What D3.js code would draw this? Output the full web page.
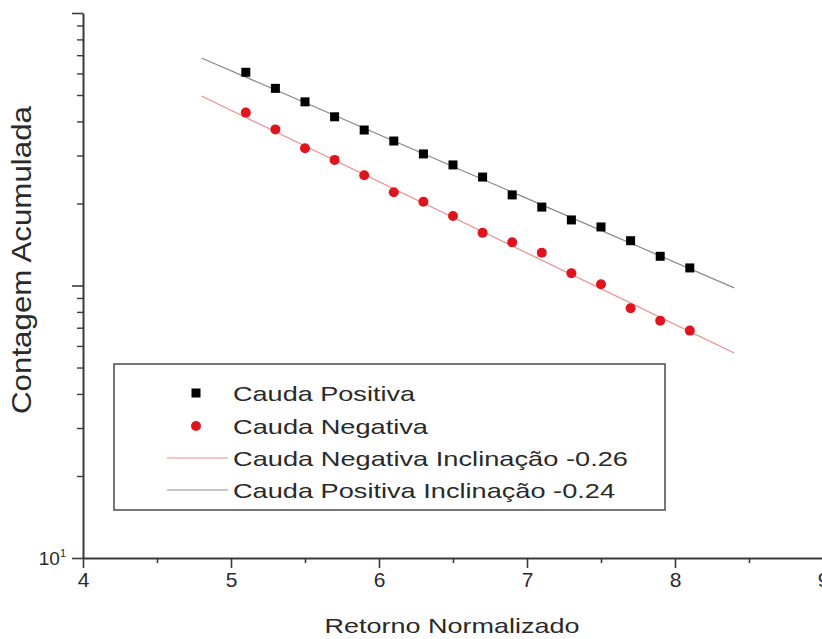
<!DOCTYPE html>
<html><head><meta charset="utf-8">
<script src="https://cdn.jsdelivr.net/npm/d3@7"></script>
<style>
body{margin:0;background:#fff}
text{font-family:"Liberation Sans",Arial,sans-serif;fill:#2a2a2a}
</style>
</head><body><svg id="c" width="822" height="639"></svg>
<script>
// ---------- data ----------
const xValues = [5.1,5.3,5.5,5.7,5.9,6.1,6.3,6.5,6.7,6.9,7.1,7.3,7.5,7.7,7.9,8.1];
const positiveTail = [606,529,472,416,372,339,304,277,250,215,194,174,164,146,128,116];
const negativeTail = [431,374,319,289,254,220,203,180,156,144,132,111,101,82.5,74.3,68.3];
const fitX = [4.8, 8.4];
const fitPositive = [684, 98];
const fitNegative = [496, 56.5];
const xMajorTicks = [4,5,6,7,8,9];
const xMinorTicks = [4.5,5.5,6.5,7.5,8.5];
const yMajorTicks = [10,100,1000];
const yMinorTicks = [20,30,40,50,60,70,80,90,200,300,400,500,600,700,800,900];
const legendLabels = ["Cauda Positiva","Cauda Negativa","Cauda Negativa Inclinação -0.26","Cauda Positiva Inclinação -0.24"];
const xTitle = "Retorno Normalizado";
const yTitle = "Contagem Acumulada";

// ---------- drawing ----------
const svg = d3.select("#c");
const x = d3.scaleLinear().domain([4,9]).range([83,823]);
const y = d3.scaleLog().domain([10,1000]).range([558,13]);
const axisColor = "#3a3a3a";
const redColor = "#e0141c";

// fit lines
const line = d3.line().x(d=>x(d[0])).y(d=>y(d[1]));
svg.append("path").datum(fitX.map((v,i)=>[v,fitPositive[i]]))
  .attr("d",line).attr("fill","none").attr("stroke","#8a8a8a").attr("stroke-width",1.2);
svg.append("path").datum(fitX.map((v,i)=>[v,fitNegative[i]]))
  .attr("d",line).attr("fill","none").attr("stroke","#f08a8a").attr("stroke-width",1.2);

// markers
svg.append("g").selectAll("rect").data(xValues.map((v,i)=>[v,positiveTail[i]])).join("rect")
  .attr("x",d=>x(d[0])-4.5).attr("y",d=>y(d[1])-4.5).attr("width",9).attr("height",9).attr("fill","#000");
svg.append("g").selectAll("circle").data(xValues.map((v,i)=>[v,negativeTail[i]])).join("circle")
  .attr("cx",d=>x(d[0])).attr("cy",d=>y(d[1])).attr("r",5).attr("fill",redColor);

// axes
function styleAxis(g, w){
  g.selectAll("path.domain").attr("stroke",axisColor).attr("stroke-width",2);
  g.selectAll(".tick line").attr("stroke",axisColor).attr("stroke-width",w);
  g.selectAll(".tick text").remove();
}
const yMajor = svg.append("g").attr("transform","translate(83,0)")
  .call(d3.axisLeft(y).tickValues(yMajorTicks).tickSize(11).tickSizeOuter(0).tickFormat(""));
styleAxis(yMajor,1.6);
const yMinor = svg.append("g").attr("transform","translate(83,0)")
  .call(d3.axisLeft(y).tickValues(yMinorTicks).tickSize(6).tickSizeOuter(0).tickFormat(""));
styleAxis(yMinor,1.4);
yMinor.select("path.domain").remove();

const xMajor = svg.append("g").attr("transform","translate(0,558)")
  .call(d3.axisBottom(x).tickValues(xMajorTicks).tickSize(10).tickSizeOuter(0).tickFormat(d3.format("d")));
xMajor.selectAll("path.domain").attr("stroke",axisColor).attr("stroke-width",2.2);
xMajor.selectAll(".tick line").attr("stroke",axisColor).attr("stroke-width",1.6);
xMajor.selectAll(".tick text").attr("font-size",21).attr("fill","#2a2a2a")
  .attr("y",14).attr("dy","0.71em").attr("font-family","'Liberation Sans',Arial,sans-serif");
const xMinor = svg.append("g").attr("transform","translate(0,558)")
  .call(d3.axisBottom(x).tickValues(xMinorTicks).tickSize(5).tickSizeOuter(0).tickFormat(""));
styleAxis(xMinor,1.6);
xMinor.select("path.domain").remove();

// y label 10^1
const yl = svg.append("text").attr("x",66).attr("y",y(10)+7).attr("text-anchor","end").attr("font-size",19);
yl.append("tspan").text("10");
yl.append("tspan").attr("font-size",11).attr("dy",-8).text("1");

// axis titles
svg.append("text").attr("y",633)
  .attr("x",452).attr("text-anchor","middle").attr("font-size",21)
  .attr("textLength",255).attr("lengthAdjust","spacingAndGlyphs").text(xTitle);
svg.append("text").attr("transform","translate(31,260) rotate(-90)")
  .attr("text-anchor","middle").attr("font-size",28)
  .attr("textLength",308).attr("lengthAdjust","spacingAndGlyphs").text(yTitle);

// legend
const lg = svg.append("g");
lg.append("rect").attr("x",114).attr("y",364).attr("width",551).attr("height",146)
  .attr("fill","#fff").attr("stroke","#555").attr("stroke-width",1.6);
const rowY = [393,426,458,490];
const rowW = [182,195,395,382];
lg.append("rect").attr("x",196-4.5).attr("y",rowY[0]-4.5).attr("width",9).attr("height",9).attr("fill","#000");
lg.append("circle").attr("cx",196).attr("cy",rowY[1]).attr("r",5).attr("fill",redColor);
lg.append("line").attr("x1",167).attr("x2",228).attr("y1",rowY[2]).attr("y2",rowY[2]).attr("stroke","#f08a8a").attr("stroke-width",1.2);
lg.append("line").attr("x1",167).attr("x2",228).attr("y1",rowY[3]).attr("y2",rowY[3]).attr("stroke","#8a8a8a").attr("stroke-width",1.2);
legendLabels.forEach((t,i)=>{
  lg.append("text").attr("x",233).attr("y",rowY[i]+7.5).attr("font-size",21)
    .attr("textLength",rowW[i]).attr("lengthAdjust","spacingAndGlyphs").text(t);
});
</script>
</body></html>
